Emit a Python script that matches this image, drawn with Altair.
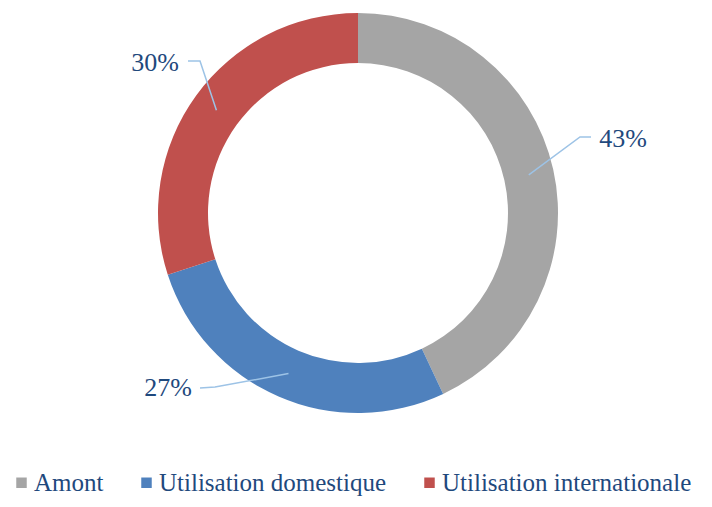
import math
import altair as alt
import pandas as pd

# ---- data ----
categories = ["Amont", "Utilisation domestique", "Utilisation internationale"]
values = [43, 27, 30]
labels = ["43%", "27%", "30%"]
colors = ["#A5A5A5", "#4F81BD", "#C0504D"]

# ---- layout (plot coordinates) ----
W, H = 692, 410
CX, CY = W / 2, H / 2
R_IN, R_OUT = 150, 200
R_MID = 175
label_pos = [(611, 131), (156, 380), (143, 55)]
elbow_pos = [(568, 129), (203, 379), (188, 53)]
end_pos = [(579, 129), (188, 380), (176, 53)]

total = sum(values)
arc_df = pd.DataFrame({"cat": categories, "val": values, "ord": list(range(len(values)))})

rows = []
cum = 0
for i, (c, v) in enumerate(zip(categories, values)):
    a = 2 * math.pi * (cum + v / 2) / total
    cum += v
    sx, sy = CX + R_MID * math.sin(a), CY - R_MID * math.cos(a)
    pts = [(sx, sy), elbow_pos[i], end_pos[i]]
    for k, (x, y) in enumerate(pts):
        rows.append({"cat": c, "k": k, "x": x, "y": y})
line_df = pd.DataFrame(rows)

text_df = pd.DataFrame({
    "lab": labels,
    "x": [p[0] for p in label_pos],
    "y": [p[1] for p in label_pos],
})

xs = alt.Scale(domain=[0, W], range=[0, W])
ys = alt.Scale(domain=[0, H], range=[0, H])

arcs = alt.Chart(arc_df).mark_arc(innerRadius=R_IN, outerRadius=R_OUT).encode(
    theta=alt.Theta("val:Q", stack=True),
    order=alt.Order("ord:Q"),
    color=alt.Color(
        "cat:N",
        title=None,
        scale=alt.Scale(domain=categories, range=colors),
        sort=categories,
        legend=alt.Legend(
            orient="none",
            legendX=-3,
            legendY=462,
            direction="horizontal",
            symbolType="square",
            symbolSize=110,
            symbolStrokeWidth=0,
            labelFont="Liberation Serif",
            labelFontSize=25,
            labelColor="#1F497D",
            labelOffset=0,
            columnPadding=30,
            labelLimit=400,
        ),
    ),
)

leaders = alt.Chart(line_df).mark_line(color="#9DC3E6", strokeWidth=1.5).encode(
    x=alt.X("x:Q", scale=xs, axis=None),
    y=alt.Y("y:Q", scale=ys, axis=None),
    detail="cat:N",
    order="k:Q",
)

texts = alt.Chart(text_df).mark_text(
    font="Liberation Serif", fontSize=26, color="#1F497D", align="center", baseline="middle"
).encode(
    x=alt.X("x:Q", scale=xs, axis=None),
    y=alt.Y("y:Q", scale=ys, axis=None),
    text="lab:N",
)

chart = alt.layer(arcs, leaders, texts).properties(
    width=W,
    height=H,
    autosize=alt.AutoSizeParams(type="none"),
    padding={"left": 4, "top": 0, "right": 0, "bottom": 81},
).configure_view(stroke=None)

chart.save("out.html", embed_options={"renderer": "svg", "actions": False})
